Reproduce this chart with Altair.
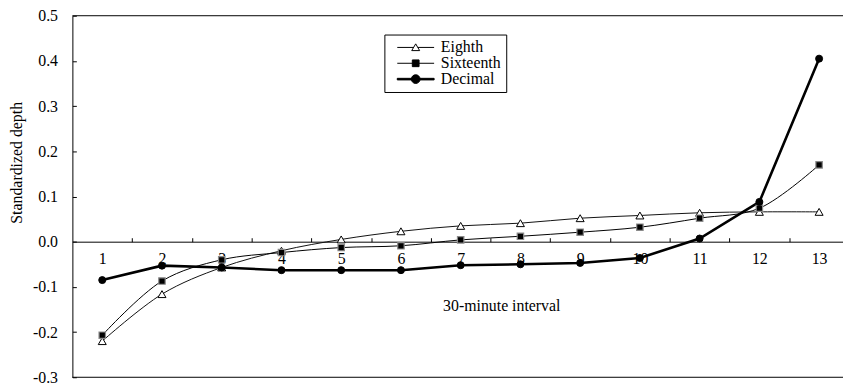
import altair as alt
import pandas as pd

# ---- data ----
intervals = list(range(1, 14))
eighth = [-0.220, -0.116, -0.057, -0.020, 0.005, 0.023, 0.035, 0.041, 0.052, 0.058, 0.064, 0.066, 0.066]
sixteenth = [-0.207, -0.087, -0.040, -0.024, -0.013, -0.009, 0.004, 0.012, 0.021, 0.032, 0.052, 0.074, 0.170]
decimal = [-0.085, -0.053, -0.057, -0.063, -0.063, -0.063, -0.052, -0.050, -0.047, -0.036, 0.007, 0.088, 0.405]
series_names = ["Eighth", "Sixteenth", "Decimal"]
y_tick_values = [-0.3, -0.2, -0.1, 0.0, 0.1, 0.2, 0.3, 0.4, 0.5]
x_tick_marks = [1.5, 2.5, 3.5, 4.5, 5.5, 6.5, 7.5, 8.5, 9.5, 10.5, 11.5, 12.5]
x_title = "30-minute interval"
y_title = "Standardized depth"

rows = []
for name, vals in zip(series_names, [eighth, sixteenth, decimal]):
    for i, v in zip(intervals, vals):
        rows.append({"interval": i, "depth": v, "series": name})
df = pd.DataFrame(rows)
one = pd.DataFrame({"k": [0]})

FONT = "Liberation Serif, 'Times New Roman', Times, serif"
W, H = 778, 365
Y_ZERO = H * 0.5 / 0.8  # pixel distance from top to y=0

xs = alt.Scale(domain=[0.5, 13.4], nice=False, zero=False)
ys = alt.Scale(domain=[-0.3, 0.5], nice=False, zero=False)

neg_fmt = "datum.value < 0 ? '-' + format(-datum.value, '.1f') : format(datum.value, '.1f')"

axis_x_ticks = alt.Axis(orient="top", offset=-Y_ZERO, values=x_tick_marks, labels=False,
                        ticks=True, tickSize=4, tickColor="black", tickWidth=1,
                        domain=True, domainColor="black", domainWidth=1, title=None, grid=False)
axis_x_labels = alt.Axis(orient="bottom", offset=-(H - Y_ZERO), values=intervals, labels=True,
                         ticks=False, tickSize=0, domain=False, labelPadding=9,
                         labelFont=FONT, labelFontSize=16, labelColor="black",
                         labelFlush=False, labelOverlap=False, format="d",
                         title=x_title, titleFont=FONT, titleFontSize=16, titleFontWeight="normal",
                         titleColor="black", titleX=433, titleY=64, titleAlign="center",
                         titleBaseline="middle", grid=False)
axis_y_left = alt.Axis(orient="left", values=y_tick_values, ticks=False, tickSize=0, labelPadding=15,
                       domain=True, domainColor="black", domainWidth=1, labelExpr=neg_fmt,
                       labelFont=FONT, labelFontSize=16, labelColor="black",
                       title=y_title, titleFont=FONT, titleFontSize=16, titleFontWeight="normal",
                       titleColor="black", titleX=-56, titleY=148, titleAngle=270,
                       titleAlign="center", titleBaseline="middle", grid=False)
axis_y_inner = alt.Axis(orient="right", offset=-W, values=y_tick_values, labels=False,
                        ticks=True, tickSize=4, tickColor="black", domain=False, title=None, grid=False)


def line(name, width, interp, color, xaxis=None, yaxis=None):
    return alt.Chart(df).transform_filter(alt.datum.series == name).mark_line(
        color=color, strokeWidth=width, interpolate=interp
    ).encode(
        x=alt.X("interval:Q", scale=xs, axis=xaxis),
        y=alt.Y("depth:Q", scale=ys, axis=yaxis),
        order="interval:Q",
    )


def points(name, **kw):
    return alt.Chart(df).transform_filter(alt.datum.series == name).mark_point(
        filled=True, opacity=1, **kw
    ).encode(
        x=alt.X("interval:Q", scale=xs, axis=None),
        y=alt.Y("depth:Q", scale=ys, axis=None),
    )


rule_top = alt.Chart(one).mark_rule(color="black", strokeWidth=1).encode(
    y=alt.YDatum(0.5, scale=ys, axis=None))
rule_bottom = alt.Chart(one).mark_rule(color="black", strokeWidth=1).encode(
    y=alt.YDatum(-0.3, scale=ys, axis=None))

line_e = line("Eighth", 1, "catmull-rom", "#111111", xaxis=axis_x_ticks, yaxis=axis_y_left)
line_s = line("Sixteenth", 1, "catmull-rom", "#000000", xaxis=axis_x_labels, yaxis=axis_y_inner)
line_d = line("Decimal", 2.6, "linear", "#000000")

pt_e = points("Eighth", shape="triangle-up", fill="white", stroke="black", strokeWidth=1, size=65)
pt_s = points("Sixteenth", shape="square", fill="black", stroke="#8a8a8a", strokeWidth=1.2, size=42)
pt_d = points("Decimal", shape="circle", fill="black", stroke="black", strokeWidth=1, size=50)

# legend symbols: a line with the marker in the middle (unit = 4 px)
C = 4.65
L = 9.3


def f(v):
    return f"{v:.2f}"


tri = (f"M0,0L{f(C-0.55)},0M{f(C+0.55)},0L{f(L)},0"
       f"M{f(C-1)},0.8L{f(C)},-0.9L{f(C+1)},0.8Z")
sq = (f"M0,0L{f(L)},0"
      f"M{f(C-0.85)},-0.85L{f(C+0.85)},-0.85L{f(C+0.85)},0.85L{f(C-0.85)},0.85Z")
circ = (f"M0,-0.2L{f(L)},-0.2L{f(L)},0.2L0,0.2Z"
        f"M{f(C+1.1)},0A1.1,1.1,0,1,1,{f(C-1.1)},0A1.1,1.1,0,1,1,{f(C+1.1)},0Z")
legend_paths = [tri, sq, circ]
legend_fills = ["white", "black", "black"]
legend_strokes = ["black", "black", "black"]

leg = alt.Legend(title=None, orient="none", legendX=315, legendY=19, strokeColor="black",
                 fillColor="white", padding=5, symbolSize=64, symbolStrokeColor="black",
                 symbolStrokeWidth=1, symbolOpacity=1, labelFont=FONT, labelFontSize=16,
                 labelColor="black", labelOffset=36, rowPadding=-1, cornerRadius=0)

legend_layer = alt.Chart(df).transform_filter("false").mark_point(opacity=1).encode(
    x=alt.X("interval:Q", scale=xs, axis=None),
    y=alt.Y("depth:Q", scale=ys, axis=None),
    shape=alt.Shape("series:N", scale=alt.Scale(domain=series_names, range=legend_paths), legend=leg),
    fill=alt.Fill("series:N", scale=alt.Scale(domain=series_names, range=legend_fills), legend=leg),
    stroke=alt.Stroke("series:N", scale=alt.Scale(domain=series_names, range=legend_strokes), legend=leg),
)

chart = alt.layer(
    rule_top, rule_bottom, line_e, line_s, line_d, pt_e, pt_s, pt_d, legend_layer
).properties(
    width=W, height=H,
    autosize=alt.AutoSizeParams(type="none"),
    padding={"left": 65, "top": 6, "right": 0, "bottom": 6},
    background="white",
).configure_view(stroke=None).configure_axis(grid=False)

chart.save("out.html", embed_options={"renderer": "svg", "actions": False})
